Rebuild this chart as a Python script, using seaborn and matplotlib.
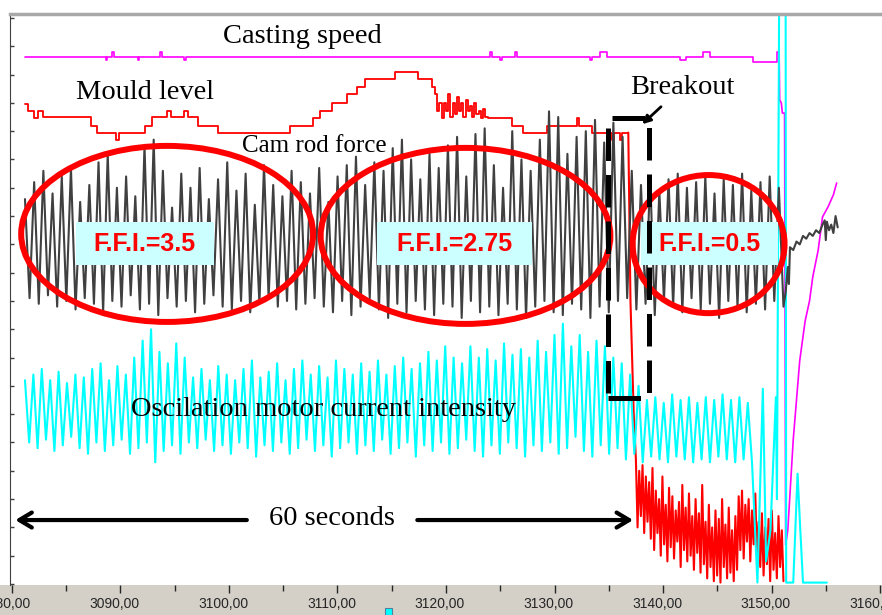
import numpy as np
import pandas as pd
import seaborn as sns
import matplotlib.pyplot as plt
from matplotlib.patches import Ellipse, Rectangle
from matplotlib.transforms import ScaledTranslation

sns.set_style("white")
plt.rcParams['font.family'] = ['Liberation Serif', 'DejaVu Serif']

# time axis (s) and tick labels
x_ticks = [3080, 3090, 3100, 3110, 3120, 3130, 3140, 3150, 3160]
x_labels = ["3080,00", "3090,00", "3100,00", "3110,00", "3120,00",
            "3130,00", "3140,00", "3150,00", "3160,00"]

# casting speed (magenta): steady part as steps, then the fall/recovery after breakout
speed_t = [3081.2, 3088.7, 3088.8, 3089.2, 3089.4, 3091.6, 3091.7, 3093.6, 3093.8,
           3095.9, 3096.0, 3124.1, 3124.2, 3125.0, 3125.2, 3126.4, 3126.5, 3133.3,
           3133.5, 3134.2, 3134.8, 3141.6, 3142.1, 3143.7, 3144.3, 3148.3, 3150.5, 3150.7]
speed_v = [186.2, 185.2, 186.2, 188, 186.2, 185.2, 186.2, 188, 186.2,
           185.2, 186.2, 188, 186.2, 185.2, 186.2, 188, 186.2, 185.2,
           186.2, 188, 186.2, 185.2, 186.2, 188, 186.2, 184.5, 188, 188]
speed_fall_t = [3150.7, 3150.75, 3150.9, 3151.0, 3151.2, 3151.3, 3151.5, 3152.0, 3152.6,
                3153.1, 3153.5, 3153.8, 3154.3, 3154.7, 3155.2, 3155.7, 3156.0]
speed_fall_v = [188, 171, 170, 166.4, 166.4, 13.8, 19.1, 51, 79,
                93, 100, 108.5, 118, 129.7, 133.2, 137.5, 141.7]

# mould level (red) steps
mould_t = [3081.2, 3081.5, 3082.0, 3082.4, 3082.9, 3087.3, 3087.8, 3089.6, 3089.9,
           3092.3, 3092.9, 3094.3, 3094.7, 3095.9, 3096.2, 3097.1, 3099.0, 3105.6,
           3107.7, 3108.4, 3109.5, 3110.9, 3111.8, 3112.5, 3115.3, 3117.4, 3118.7,
           3119.0, 3119.2, 3119.4, 3119.6, 3119.8, 3120.0, 3120.2, 3120.4, 3120.6,
           3120.8, 3121.0, 3121.2, 3121.4, 3121.6, 3121.8, 3122.0, 3122.2, 3122.4,
           3122.6, 3122.8, 3123.0, 3123.2, 3123.4, 3123.6, 3123.9, 3126.1, 3127.1,
           3129.3, 3132.1, 3132.3, 3133.5, 3135.3, 3135.5, 3136.0, 3136.2, 3136.8]
mould_v = [169.5, 167, 164.5, 167, 165, 162, 159.5, 157, 159.5,
           162, 165, 167, 165, 167, 165, 162, 159.5, 162,
           164.5, 167, 170, 173, 175.5, 178.5, 181, 178.5, 175.5,
           173, 167, 170, 164.5, 170, 167, 173, 165, 170,
           166, 172, 167, 170, 165, 171, 167, 169, 165,
           170, 166, 167, 164.5, 168, 165, 164.5, 162, 159.5,
           162, 164.5, 162, 159.5, 157, 159.5, 157, 159.5, 159.5]

# mould level after breakout: drop, then noise
drop_t = [3136.8, 3137.0, 3137.3]
drop_v = [159.5, 100, 60]
noise_v = [44, 20, 40, 24, 42, 18, 38, 22,
           36, 16, 41, 12, 33, 18, 30, 10, 38, 14, 28, 8, 34, 13, 31, 9, 26, 15,
           29, 6, 35, 12, 27, 8, 32, 10, 24, 5, 30, 11,
           25, 4, 35, 7, 22, 2, 28, 6, 20, 1, 26, 3, 23, 0.5, 30, 6, 21, 2, 27, 4,
           19, 1, 24, 5,
           31, 12, 33, 9, 28, 15, 30, 8, 26, 14, 32, 10, 22, 6,
           25, 3, 20, 7, 23, 1, 26, 5, 18, 2, 24, 6, 19, 1]

# cam rod force (dark grey) peaks / troughs of each oscillation
cam_peaks = [136, 142, 146, 138, 144, 147, 135, 141, 149, 152,
             140, 144, 137, 155, 157, 146, 133, 145, 140, 147,
             136, 143, 149, 139, 145, 134, 148, 141, 137, 146,
             142, 138, 147, 135, 144,
             148, 151, 141, 149, 146, 154, 157, 150, 143, 152,
             147, 155, 158, 144, 159, 161, 148, 140, 160, 150,
             146, 157, 167, 165, 152, 158, 160, 164, 156, 163, 158,
             146, 141, 144, 139, 143, 145, 140, 142, 144, 138,
             143, 141, 145, 139, 142, 144, 140]
cam_troughs = [101, 99, 102, 98, 100, 97, 101, 99, 96, 100,
               98, 102, 97, 99, 95, 101, 98, 100, 96, 99,
               102, 98, 97, 100, 96, 99, 101, 98, 100, 97,
               99, 101, 98, 96, 100, 95, 98, 101, 97, 94,
               99, 96, 100, 97, 95, 99, 98, 94, 100, 96,
               98, 95, 99, 97, 94, 98, 100, 96, 95, 99,
               97, 94, 98, 96, 100, 101, 97, 99, 95, 100,
               98, 96, 101, 97, 99, 94, 100, 98, 96, 99,
               97, 100, 98]
cam_tail_t = [3151.3, 3151.5, 3151.6, 3151.7, 3152.0, 3152.3, 3152.6, 3152.9, 3153.2, 3153.5,
              3153.8, 3154.1, 3154.4, 3154.7, 3154.9, 3155.0, 3155.1, 3155.3, 3155.5, 3155.7,
              3155.9, 3156.1]
cam_tail_v = [103, 112, 106, 119, 118, 121, 120, 123, 122, 124,
              123, 125, 124, 127, 128.5, 121.5, 128, 125, 127, 124,
              130, 126]

# oscillation motor current (cyan) peaks / troughs
cur_peaks = [72, 74, 76, 72, 75, 71, 74, 73, 76, 78,
             72, 77, 74, 80, 86, 90, 82, 78, 85, 80,
             73, 76, 72, 77, 74, 72, 76, 79, 73, 75,
             78, 72, 76, 79, 74, 77, 73, 79, 76, 74,
             78, 75, 79, 74, 77, 80, 76, 78, 82, 79,
             84, 80, 78, 84, 80, 83, 79, 85, 81, 83,
             80, 86, 82, 88, 92, 84, 88, 82, 86, 84,
             80, 78, 74, 70, 65, 66, 64, 67, 65, 66,
             64, 66, 65, 67, 65, 66, 64]
cur_troughs = [50, 48, 51, 47, 49, 52, 48, 46, 50, 47,
               49, 51, 46, 48, 50, 43, 47, 49, 46, 50,
               48, 51, 47, 49, 46, 50, 48, 45, 49, 47,
               50, 46, 48, 51, 47, 49, 45, 48, 50, 46,
               49, 47, 51, 46, 48, 50, 45, 49, 47, 50,
               46, 48, 51, 47, 45, 49, 46, 50, 48, 45,
               49, 47, 50, 46, 48, 52, 47, 45, 49, 46,
               48, 44, 46, 43, 45, 44, 43, 45, 44, 43,
               44, 43, 45, 44, 43, 44, 43]
cur_tail_t = [3148.7, 3149.2, 3149.5, 3149.9, 3150.4, 3150.5, 3150.7, 3151.3, 3151.35,
              3152.0, 3152.4, 3152.6, 3152.9, 3155.1]
cur_tail_v = [0.5, 69, 8, 19, 66, 30, 205, 205, 0.5,
              0.5, 39, 23, 0.5, 0.5]

# assemble the series
cam_v = np.empty(2 * len(cam_peaks))
cam_v[0::2] = cam_peaks
cam_v[1::2] = cam_troughs
cam = pd.DataFrame({"t": np.concatenate([np.linspace(3081.2, 3151.1, len(cam_v)), cam_tail_t]),
                    "v": np.concatenate([cam_v, cam_tail_v])})

cur_v = np.empty(2 * len(cur_peaks))
cur_v[0::2] = cur_peaks
cur_v[1::2] = cur_troughs
cur = pd.DataFrame({"t": np.concatenate([np.linspace(3081.2, 3148.2, len(cur_v)), cur_tail_t]),
                    "v": np.concatenate([cur_v, cur_tail_v])})

brk = pd.DataFrame({"t": np.concatenate([drop_t, np.linspace(3137.5, 3151.1, len(noise_v))]),
                    "v": np.concatenate([drop_v, noise_v])})

fig = plt.figure(figsize=(8.82, 6.15), dpi=100)
fig.add_artist(Rectangle((0, 0), 1, 30 / 615, transform=fig.transFigure,
                         facecolor="#d4d0c8", edgecolor="none", zorder=-1))
ax = fig.add_axes([10 / 882, 30 / 615, 872 / 882, 571 / 615])

kw = dict(estimator=None, sort=False, ax=ax)
sns.lineplot(x=mould_t, y=mould_v, color="#ff0000", lw=1.3, drawstyle="steps-post", **kw)
sns.lineplot(data=brk, x="t", y="v", color="#ff0000", lw=1.5, **kw)
sns.lineplot(x=speed_t, y=speed_v, color="#ff00ff", lw=1.2, drawstyle="steps-post", **kw)
sns.lineplot(x=speed_fall_t, y=speed_fall_v, color="#ff00ff", lw=1.2, **kw)
sns.lineplot(data=cur, x="t", y="v", color="#00ffff", lw=1.5, **kw)
sns.lineplot(data=cam, x="t", y="v", color="#404040", lw=1.5, **kw)

# frequency index ellipses and boxes
red = "#ff0000"
for (cx, cy, w, h) in [(3094.3, 123.7, 26.9, 62.2), (3121.8, 123.0, 26.7, 62.2),
                       (3144.2, 120.1, 14.0, 48.8)]:
    ax.add_patch(Ellipse((cx, cy), w, h, fill=False, ec=red, lw=4.3, zorder=6))
for (x0, x1, lab) in [(3085.9, 3098.6, "F.F.I.=3.5"), (3113.6, 3127.9, "F.F.I.=2.75"),
                      (3138.0, 3150.6, "F.F.I.=0.5")]:
    ax.add_patch(Rectangle((x0, 112.7), x1 - x0, 15.2, fc="#ccffff", ec="none", zorder=7))
    ax.text((x0 + x1) / 2, 120.3, lab, ha="center", va="center", color=red,
            fontsize=18, fontweight="bold", family=["Liberation Sans", "DejaVu Sans"], zorder=8)

# breakout marker
ax.add_patch(Rectangle((3134.9, 65.7), 3.8, 99.0, fill=False, ec="k", lw=3.6,
                       ls=(0, (6.5, 2.8)), zorder=7))
ax.annotate("", xy=(3137.9, 161.8), xytext=(3140.0, 169.3),
            arrowprops=dict(arrowstyle="-|>", color="k", lw=2, mutation_scale=12), zorder=8)

# 60 seconds arrows
ax.annotate("", xy=(3080.05, 22.6), xytext=(3101.9, 22.6),
            arrowprops=dict(arrowstyle="->,head_length=0.5,head_width=0.3", color="k",
                            lw=3, mutation_scale=18), zorder=8)
ax.annotate("", xy=(3137.5, 22.6), xytext=(3117.1, 22.6),
            arrowprops=dict(arrowstyle="->,head_length=0.5,head_width=0.3", color="k",
                            lw=3, mutation_scale=18), zorder=8)

# labels
tk = dict(ha="center", va="center", color="k", zorder=9)
ax.text(3106.8, 193.6, "Casting speed", fontsize=20.5, **tk)
ax.text(3092.3, 173.5, "Mould level", fontsize=20.5, **tk)
ax.text(3107.9, 154.8, "Cam rod force", fontsize=18, **tk)
ax.text(3108.7, 61.8, "Oscilation motor current intensity", fontsize=20.5, **tk)
ax.text(3109.5, 23.3, "60 seconds", fontsize=20.5, **tk)
ax.text(3141.8, 175.3, "Breakout", fontsize=20.5, **tk)

# axes look
ax.set_xlim(3079.82, 3160.18)
ax.set_ylim(-0.35, 201.4)
ax.set_xticks(x_ticks)
ax.set_xticklabels(x_labels, fontsize=10, family=["Liberation Sans", "DejaVu Sans"])
ax.set_xticks(np.arange(3085, 3160, 10), minor=True)
ax.set_yticks(np.arange(0, 201, 10))
ax.set_yticklabels([])
ax.set_xlabel("")
ax.set_ylabel("")
ax.tick_params(axis="x", which="major", bottom=True, direction="out", length=6, width=1, pad=3)
ax.tick_params(axis="x", which="minor", bottom=True, direction="out", length=4, width=1)
ax.tick_params(axis="y", left=True, direction="in", length=3, width=1, color="#404040")
# labels sit a little left of their ticks in the original
shift = ScaledTranslation(-6 / 100, 0, fig.dpi_scale_trans)
for lab in ax.get_xticklabels():
    lab.set_transform(lab.get_transform() + shift)
ax.spines["top"].set_color("#a8a8a8")
ax.spines["top"].set_linewidth(2.5)
ax.spines["left"].set_color("#404040")
ax.spines["right"].set_color("#c8c8c8")
ax.spines["bottom"].set_visible(False)

fig.add_artist(Rectangle((385 / 882, 0), 7 / 882, 7 / 615, transform=fig.transFigure,
                         fc="#00ffff", ec="#5080a0", lw=0.8, zorder=5))

fig.savefig("out.png", dpi=100)
